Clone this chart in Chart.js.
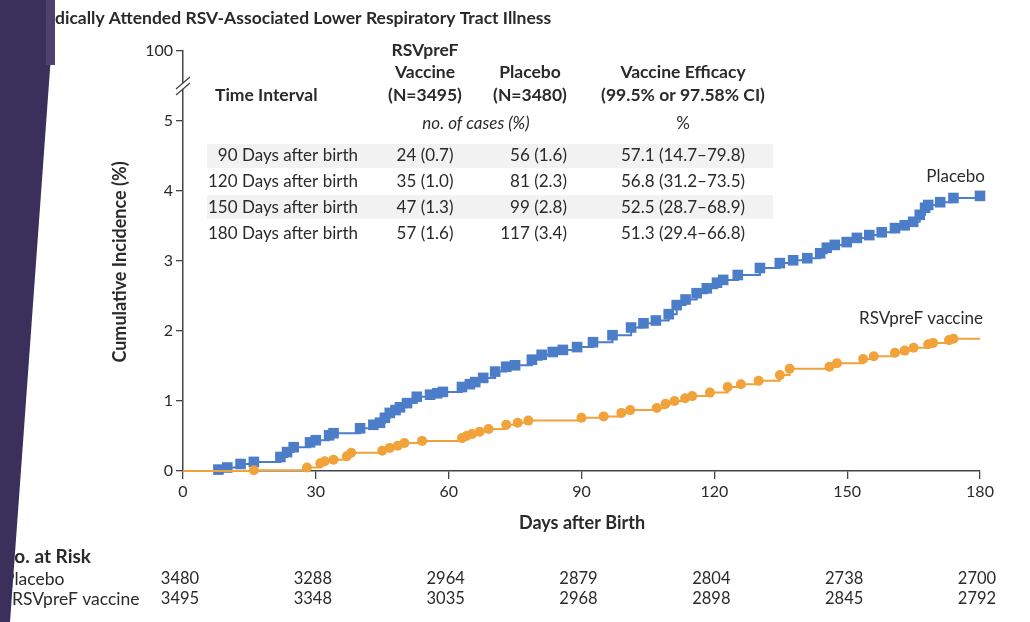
<!DOCTYPE html>
<html>
<head>
<meta charset="utf-8">
<script src="https://cdn.jsdelivr.net/npm/chart.js@4.4.0/dist/chart.umd.min.js"></script>
<style>
body { margin: 0; background: #fff; }
</style>
</head>
<body>
<canvas id="myChart" width="1030" height="622"></canvas>
<script>
const diasPlacebo = [0, 8, 10, 13, 16, 22, 23.5, 25, 28.7, 30, 33, 34, 40, 43, 44.5, 45.6, 46.7, 48, 49, 50.6, 52.8, 55.8, 57.4, 58.7, 63, 64.8, 66, 67.8, 70.5, 73, 75, 78.8, 81, 83.5, 85.8, 89, 92.6, 97, 101.2, 104, 106.8, 109.7, 111.5, 113.5, 116, 118.3, 120.6, 122, 125.3, 130.3, 134.8, 137.8, 141, 143.9, 145.4, 147.2, 149.9, 152.2, 155, 157.8, 160.8, 163, 164.9, 166.4, 167.6, 168.3, 171, 174, 180]
const incPlacebo = [0, 0.02, 0.05, 0.10, 0.13, 0.20, 0.27, 0.34, 0.41, 0.44, 0.51, 0.54, 0.61, 0.66, 0.69, 0.76, 0.83, 0.87, 0.91, 0.97, 1.06, 1.09, 1.11, 1.13, 1.20, 1.24, 1.27, 1.33, 1.42, 1.49, 1.51, 1.59, 1.66, 1.70, 1.73, 1.77, 1.84, 1.94, 2.05, 2.11, 2.15, 2.24, 2.37, 2.45, 2.54, 2.61, 2.69, 2.73, 2.80, 2.90, 2.97, 3.01, 3.04, 3.11, 3.19, 3.23, 3.27, 3.33, 3.37, 3.41, 3.47, 3.51, 3.56, 3.66, 3.76, 3.80, 3.84, 3.90, 3.93]

const diasVacina = [0, 16, 28, 31, 32, 34, 37, 38, 45, 46.7, 48.5, 50, 54, 63, 64, 65.3, 67, 69, 73, 75.6, 78, 90, 95, 99, 101, 107, 109, 111, 113.4, 115, 119, 123, 126, 130, 134.8, 137, 146, 147.7, 153.6, 156, 160.8, 163, 165, 168.3, 169.4, 173, 174, 180]
const incVacina = [0, 0.01, 0.05, 0.11, 0.14, 0.16, 0.21, 0.26, 0.29, 0.33, 0.36, 0.40, 0.43, 0.47, 0.50, 0.53, 0.56, 0.60, 0.66, 0.69, 0.72, 0.76, 0.78, 0.83, 0.87, 0.90, 0.96, 1.00, 1.04, 1.07, 1.12, 1.20, 1.24, 1.29, 1.37, 1.46, 1.49, 1.54, 1.60, 1.64, 1.69, 1.72, 1.76, 1.81, 1.83, 1.87, 1.89, 1.89]

const diasTicks = [0, 30, 60, 90, 120, 150, 180]
const riscoPlacebo = [3480, 3288, 2964, 2879, 2804, 2738, 2700]
const riscoVacina = [3495, 3348, 3035, 2968, 2898, 2845, 2792]

const intervalos = ['90 Days after birth', '120 Days after birth', '150 Days after birth', '180 Days after birth']
const casosVacina = ['24 (0.7)', '35 (1.0)', '47 (1.3)', '57 (1.6)']
const casosPlacebo = ['56 (1.6)', '81 (2.3)', '99 (2.8)', '117 (3.4)']
const eficacia = ['57.1 (14.7\u201379.8)', '56.8 (31.2\u201373.5)', '52.5 (28.7\u201368.9)', '51.3 (29.4\u201366.8)']

let corAzul = '#4c7dc9'
let corLaranja = '#f1a23a'
let corTexto = '#2a2a2a'
let fonte = 'Lato, sans-serif'

function texto(c, t, x, y, tam, peso, alinh, estilo) {
    c.font = (estilo || '') + ' ' + peso + ' ' + tam + 'px ' + fonte
    c.textAlign = alinh
    c.textBaseline = 'middle'
    c.fillStyle = corTexto
    c.fillText(t, x, y)
}

const extras = {
    id: 'extras',
    beforeDatasetsDraw(chart) {
        let c = chart.ctx
        c.save()
        c.fillStyle = '#f2f2f2'
        c.fillRect(207, 144, 566, 24)
        c.fillRect(207, 195, 566, 24)
        c.restore()
    },
    afterDraw(chart) {
        let c = chart.ctx
        let x = chart.scales.x
        let y = chart.scales.y
        c.save()

        // quebra do eixo
        let ex = x.left
        let yq = y.getPixelForValue(5.5)
        c.fillStyle = '#fff'
        c.fillRect(ex - 3, yq - 3, 6, 6)
        c.strokeStyle = '#444'
        c.lineWidth = 1.3
        c.beginPath()
        c.moveTo(ex - 7, yq + 3); c.lineTo(ex + 7, yq - 9)
        c.moveTo(ex - 7, yq + 9); c.lineTo(ex + 7, yq - 3)
        c.stroke()

        // tabela
        texto(c, 'RSVpreF', 425, 50, 17.5, 'bold', 'center')
        texto(c, 'Vaccine', 425, 72, 17.5, 'bold', 'center')
        texto(c, '(N=3495)', 425, 95, 17.5, 'bold', 'center')
        texto(c, 'Placebo', 530, 72, 17.5, 'bold', 'center')
        texto(c, '(N=3480)', 530, 95, 17.5, 'bold', 'center')
        texto(c, 'Vaccine Efficacy', 683, 72, 17.5, 'bold', 'center')
        texto(c, '(99.5% or 97.58% CI)', 683, 95, 17.5, 'bold', 'center')
        texto(c, 'Time Interval', 215, 95, 17.5, 'bold', 'left')
        texto(c, 'no. of cases (%)', 476, 124, 17, 'normal', 'center', 'italic')
        texto(c, '%', 683, 124, 17, 'normal', 'center')
        for (let i = 0; i < intervalos.length; i++) {
            let ly = 156 + i * 25.7
            texto(c, intervalos[i], 358, ly, 17, 'normal', 'right')
            texto(c, casosVacina[i], 425, ly, 17, 'normal', 'center')
            texto(c, casosPlacebo[i], 567, ly, 17, 'normal', 'right')
            texto(c, eficacia[i], 683, ly, 17, 'normal', 'center')
        }

        // rotulos das curvas
        texto(c, 'Placebo', 985, 177, 17, 'normal', 'right')
        texto(c, 'RSVpreF vaccine', 983, 319, 17, 'normal', 'right')

        // titulos
        c.font = 'bold 17.5px ' + fonte
        let inicio = 55 - c.measureText('Me').width
        texto(c, 'Medically Attended RSV-Associated Lower Respiratory Tract Illness', inicio, 18, 17.5, 'bold', 'left')
        texto(c, 'Days after Birth', 582, 523, 18, 'bold', 'center')
        c.save()
        c.translate(120, 262)
        c.rotate(-Math.PI / 2)
        texto(c, 'Cumulative Incidence (%)', 0, 0, 18, 'bold', 'center')
        c.restore()

        // numero em risco
        texto(c, 'No. at Risk', 0, 557, 19, 'bold', 'left')
        texto(c, 'Placebo', 4, 579, 17.5, 'normal', 'left')
        texto(c, 'RSVpreF vaccine', 12, 599, 17.5, 'normal', 'left')
        for (let i = 0; i < diasTicks.length; i++) {
            let px = x.getPixelForValue(diasTicks[i])
            texto(c, String(riscoPlacebo[i]), px - 3, 579, 16.5, 'normal', 'center')
            texto(c, String(riscoVacina[i]), px - 3, 599, 16.5, 'normal', 'center')
        }

        // faixa roxa
        c.fillStyle = '#3b2f5c'
        c.beginPath()
        c.moveTo(0, 0); c.lineTo(55, 0); c.lineTo(10, 622); c.lineTo(0, 622)
        c.closePath()
        c.fill()
        c.fillStyle = '#4d426f'
        c.fillRect(46, 0, 9, 65)
        c.restore()
    }
}

const ctx = document.getElementById('myChart').getContext('2d')
let myChart = new Chart(ctx, {
    type: 'line',
    data: {
        datasets: [{
            label: 'RSVpreF vaccine',
            data: diasVacina.map((d, i) => ({ x: d, y: incVacina[i] })),
            borderColor: corLaranja,
            backgroundColor: corLaranja,
            borderWidth: 2,
            stepped: true,
            pointStyle: 'circle',
            pointRadius: diasVacina.map((d, i) => (i == 0 || i == diasVacina.length - 1) ? 0 : 5),
            pointBorderWidth: 0,
            clip: false
        }, {
            label: 'Placebo',
            data: diasPlacebo.map((d, i) => ({ x: d, y: incPlacebo[i] })),
            borderColor: corAzul,
            backgroundColor: corAzul,
            borderWidth: 2,
            stepped: true,
            pointStyle: 'rect',
            pointRadius: diasPlacebo.map((d, i) => i == 0 ? 0 : 7.5),
            pointBorderWidth: 0,
            clip: false
        }]
    },
    options: {
        responsive: false,
        animation: false,
        events: [],
        layout: { padding: { top: 51, right: 50, left: 0, bottom: 0 } },
        plugins: { legend: { display: false }, tooltip: { enabled: false } },
        scales: {
            x: {
                type: 'linear',
                min: 0,
                max: 180,
                afterFit: s => { s.height = 151 },
                afterBuildTicks: s => { s.ticks = diasTicks.map(v => ({ value: v })) },
                grid: { drawOnChartArea: false, drawTicks: true, tickLength: 8, color: '#444', lineWidth: 1.3 },
                border: { display: true, color: '#444', width: 1.5 },
                ticks: { color: corTexto, font: { family: fonte, size: 16 }, padding: 3, maxRotation: 0 }
            },
            y: {
                min: 0,
                max: 6,
                afterFit: s => { s.width = 183 },
                grid: { drawOnChartArea: false, drawTicks: true, tickLength: 7, color: '#444', lineWidth: 1.3 },
                border: { display: true, color: '#444', width: 1.5 },
                ticks: {
                    stepSize: 1,
                    color: corTexto,
                    font: { family: fonte, size: 16 },
                    padding: 3,
                    callback: v => v == 6 ? '100' : v
                }
            }
        }
    },
    plugins: [extras]
})
</script>
</body>
</html>
